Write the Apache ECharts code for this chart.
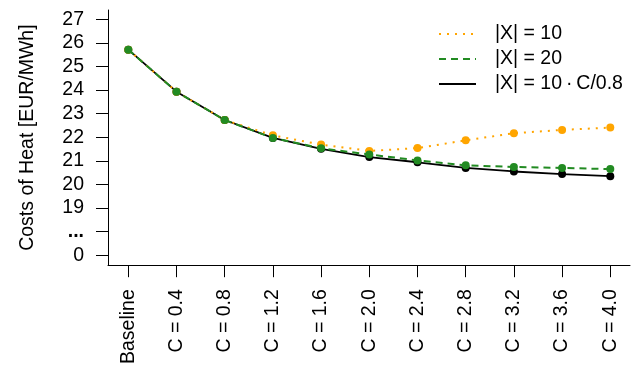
<!DOCTYPE html>
<html>
<head>
<meta charset="utf-8">
<script src="https://cdn.jsdelivr.net/npm/echarts@6/dist/echarts.min.js"></script>
<style>
  html, body { margin: 0; padding: 0; background: #fff; }
  #chart { width: 635px; height: 367px; }
</style>
</head>
<body>
<div id="chart"></div>
<script>
// Scenario categories along the x axis
const categories = ['Baseline', 'C = 0.4', 'C = 0.8', 'C = 1.2', 'C = 1.6', 'C = 2.0',
                    'C = 2.4', 'C = 2.8', 'C = 3.2', 'C = 3.6', 'C = 4.0'];

// Costs of heat [EUR/MWh] per scenario
const costsX10 = [25.71, 23.93, 22.73, 22.08, 21.69, 21.42, 21.54, 21.87, 22.17, 22.31, 22.41];
const costsX20 = [25.71, 23.93, 22.73, 21.97, 21.53, 21.27, 21.02, 20.81, 20.74, 20.70, 20.65];
const costsScaled = [25.71, 23.93, 22.73, 21.97, 21.51, 21.16, 20.94, 20.70, 20.55, 20.44, 20.35];

// Broken y axis: position 17 stands for 0, position 18 for the break marker
const yTickValues = [17, 18, 19, 20, 21, 22, 23, 24, 25, 26, 27];
const yTickLabels = ['0', '...', '19', '20', '21', '22', '23', '24', '25', '26', '27'];

const seriesNames = ['|X| = 10', '|X| = 20', '|X| = 10\u2009\u00B7\u2009C/0.8'];

const FONT = '"Liberation Sans", Arial, Helvetica, sans-serif';
const FS = 19.5;

const toPoints = arr => arr.map((v, i) => [i, v]);
const catIndex = categories.map((c, i) => i);

const chart = echarts.init(document.getElementById('chart'), null, { renderer: 'canvas' });

chart.setOption({
  animation: false,
  backgroundColor: '#ffffff',
  textStyle: { fontFamily: FONT },
  grid: { left: 108, right: 5, top: 10, bottom: 99, containLabel: false },
  legend: {
    data: seriesNames,
    orient: 'vertical',
    left: 438,
    top: 24,
    padding: 0,
    itemWidth: 37,
    itemHeight: 14,
    itemGap: 5,
    itemStyle: { opacity: 0 },
    textStyle: { fontFamily: FONT, fontSize: FS, color: '#000', padding: [0, 0, 0, 14] }
  },
  xAxis: {
    type: 'value',
    min: -0.421,
    max: 10.409,
    splitLine: { show: false },
    axisLine: { show: true, onZero: false, lineStyle: { color: '#000', width: 1 } },
    axisTick: { show: true, length: 12, inside: false, customValues: catIndex,
                lineStyle: { color: '#000', width: 1 } },
    axisLabel: {
      customValues: catIndex,
      rotate: 90,
      margin: 24,
      fontFamily: FONT,
      fontSize: FS,
      color: '#000',
      formatter: v => categories[Math.round(v)]
    }
  },
  yAxis: {
    type: 'value',
    min: 16.58,
    max: 27.39,
    name: 'Costs of Heat [EUR/MWh]',
    nameLocation: 'middle',
    nameGap: 70,
    nameTextStyle: { fontFamily: FONT, fontSize: FS, color: '#000' },
    splitLine: { show: false },
    axisLine: { show: true, onZero: false, lineStyle: { color: '#000', width: 1 } },
    axisTick: { show: true, length: 12, inside: false, customValues: yTickValues,
                lineStyle: { color: '#000', width: 1 } },
    axisLabel: {
      customValues: yTickValues,
      margin: 24,
      fontFamily: FONT,
      fontSize: FS,
      color: '#000',
      formatter: v => {
        const k = yTickValues.indexOf(Math.round(v));
        return k === 1 ? '{dots|' + yTickLabels[k] + '}' : yTickLabels[k];
      },
      rich: { dots: { fontFamily: FONT, fontSize: FS, fontWeight: 'bold', color: '#000' } }
    }
  },
  series: [
    {
      name: seriesNames[2],
      type: 'line',
      data: toPoints(costsScaled),
      symbol: 'circle',
      symbolSize: 8,
      itemStyle: { color: '#000000' },
      lineStyle: { color: '#000000', width: 1.8, type: 'solid' },
      z: 2
    },
    {
      name: seriesNames[0],
      type: 'line',
      data: toPoints(costsX10),
      symbol: 'circle',
      symbolSize: 8,
      itemStyle: { color: '#FFA500' },
      lineStyle: { color: '#FFA500', width: 2, type: [2, 6] },
      z: 3
    },
    {
      name: seriesNames[1],
      type: 'line',
      data: toPoints(costsX20),
      symbol: 'circle',
      symbolSize: 8,
      itemStyle: { color: '#228B22' },
      lineStyle: { color: '#228B22', width: 2, type: [7, 5] },
      z: 4
    }
  ]
});
</script>
</body>
</html>
